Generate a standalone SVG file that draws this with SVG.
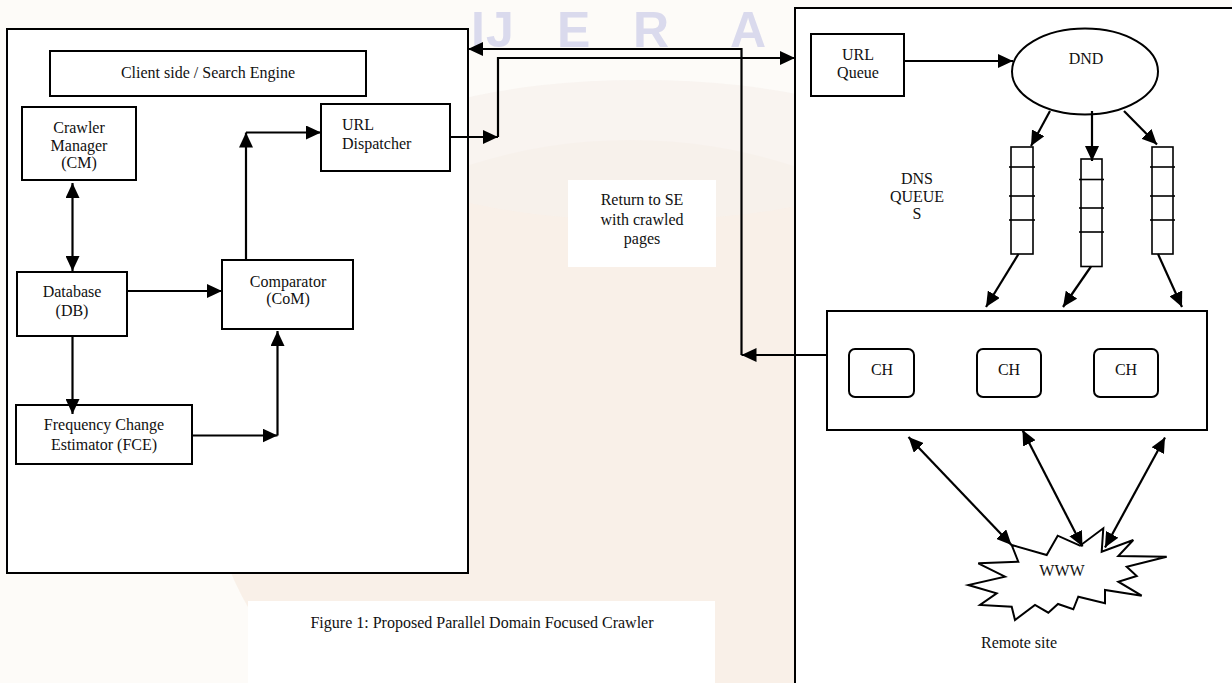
<svg xmlns="http://www.w3.org/2000/svg" width="1232" height="683" viewBox="0 0 1232 683">
<defs>
<style>
.box{fill:#fff;stroke:#000;stroke-width:2}
.qb{fill:#fff;stroke:#000;stroke-width:1.6}
.ql{stroke:#000;stroke-width:1.6}
.t{font-family:"Liberation Serif","Times New Roman",serif;font-size:16px;fill:#111}
.c{text-anchor:middle}
.ln{stroke:#000;stroke-width:2.2;fill:none}
.wm{font-family:"Liberation Sans",Arial,sans-serif;font-size:50px;font-weight:bold;fill:#dadaed}
</style>
<marker id="ah" viewBox="0 0 15 14" refX="15" refY="7" markerWidth="15" markerHeight="14" markerUnits="userSpaceOnUse" orient="auto-start-reverse">
<path d="M0,0 L15,7 L0,14 z" fill="#000"/>
</marker>
</defs>

<g id="background">
<rect x="0" y="0" width="1232" height="683" fill="#fdfbf8"/>
<ellipse cx="630" cy="470" rx="420" ry="330" fill="#f8eee4" opacity="0.8"/>
<ellipse cx="640" cy="150" rx="260" ry="70" fill="#f6f1ec" opacity="0.7"/>
<text class="wm" x="471 486 557 633 730" y="47">IJERA</text>
</g>

<g id="client-container">
<rect class="box" x="7" y="29" width="461" height="544"/>
</g>
<g id="server-container">
<rect class="box" x="795" y="8" width="460" height="700"/>
</g>

<g id="return-label">
<rect x="568" y="180" width="148" height="87" fill="#fff"/>
<text class="t c" x="642" y="205">Return to SE</text>
<text class="t c" x="642" y="224.5">with crawled</text>
<text class="t c" x="642" y="244">pages</text>
</g>

<g id="caption">
<rect x="248" y="601" width="467" height="82" fill="#fff"/>
<text class="t c" x="482" y="628">Figure 1: Proposed Parallel Domain Focused Crawler</text>
</g>

<g id="client-side">
<rect class="box" x="50" y="51" width="316" height="45"/>
<text class="t c" x="208" y="78">Client side / Search Engine</text>
</g>

<g id="crawler-manager">
<rect class="box" x="22" y="107" width="114" height="73"/>
<text class="t c" x="79" y="132.5">Crawler</text>
<text class="t c" x="79" y="150.5">Manager</text>
<text class="t c" x="79" y="168">(CM)</text>
</g>

<g id="database">
<rect class="box" x="17" y="272" width="110" height="64"/>
<text class="t c" x="72" y="296.5">Database</text>
<text class="t c" x="72" y="316">(DB)</text>
</g>

<g id="comparator">
<rect class="box" x="222" y="260" width="131" height="69"/>
<text class="t c" x="288" y="286.5">Comparator</text>
<text class="t c" x="288" y="304">(CoM)</text>
</g>

<g id="url-dispatcher">
<rect class="box" x="321" y="104" width="129" height="67"/>
<text class="t" x="342" y="129.5">URL</text>
<text class="t" x="342" y="148.5">Dispatcher</text>
</g>

<g id="fce">
<rect class="box" x="16" y="405" width="176" height="59"/>
<text class="t c" x="104" y="430">Frequency Change</text>
<text class="t c" x="104" y="449.5">Estimator (FCE)</text>
</g>

<g id="url-queue">
<rect class="box" x="811" y="34" width="93" height="62"/>
<text class="t c" x="858" y="59.5">URL</text>
<text class="t c" x="858" y="78">Queue</text>
</g>

<g id="dnd">
<ellipse class="box" cx="1085" cy="71.5" rx="73" ry="43"/>
<text class="t c" x="1086" y="63.5">DND</text>
</g>

<g id="dns-queues-label">
<text class="t c" x="917" y="183.5">DNS</text>
<text class="t c" x="917" y="201.5">QUEUE</text>
<text class="t c" x="917" y="219">S</text>
</g>

<g id="dns-queue-1">
<rect class="qb" x="1011" y="147" width="22" height="107"/>
<line class="ql" x1="1009" y1="167" x2="1035" y2="167"/>
<line class="ql" x1="1009" y1="196" x2="1035" y2="196"/>
<line class="ql" x1="1009" y1="220" x2="1035" y2="220"/>
</g>
<g id="dns-queue-2">
<rect class="qb" x="1081" y="159" width="21" height="107.5"/>
<line class="ql" x1="1079" y1="179.5" x2="1104" y2="179.5"/>
<line class="ql" x1="1079" y1="208" x2="1104" y2="208"/>
<line class="ql" x1="1079" y1="232" x2="1104" y2="232"/>
</g>
<g id="dns-queue-3">
<rect class="qb" x="1152" y="147" width="21" height="107"/>
<line class="ql" x1="1150" y1="167" x2="1175" y2="167"/>
<line class="ql" x1="1150" y1="196" x2="1175" y2="196"/>
<line class="ql" x1="1150" y1="220" x2="1175" y2="220"/>
</g>

<g id="crawl-hands">
<rect class="box" x="827" y="311" width="380" height="119"/>
</g>
<g id="ch-1">
<rect class="box" x="849" y="349" width="65" height="48" rx="6"/>
<text class="t c" x="882" y="375">CH</text>
</g>
<g id="ch-2">
<rect class="box" x="977" y="349" width="64" height="48" rx="6"/>
<text class="t c" x="1009" y="375">CH</text>
</g>
<g id="ch-3">
<rect class="box" x="1094" y="349" width="64" height="48" rx="6"/>
<text class="t c" x="1126" y="375">CH</text>
</g>

<g id="www">
<polygon class="box" points="1011.7,545 1046.7,555 1057.7,535.7 1080,545.7 1103.3,528.3 1101.7,551.7 1133.3,540 1118.3,556 1166.7,556.7 1126.7,566.7 1136.7,576 1118.3,581.7 1141.7,595.7 1105,590 1105,603.3 1078.3,596.7 1073.3,609.3 1058,604 1048.3,612.7 1035,605 1015,620 1011.7,606.7 980,605 996.7,593.3 968.3,585 1005,576.7 978.3,563.3 1018.3,561.7"/>
<text class="t c" x="1062" y="576">WWW</text>
</g>

<g id="remote-site">
<text class="t c" x="1019" y="648">Remote site</text>
</g>

<g id="connectors">
<line class="ln" x1="72.5" y1="183" x2="72.5" y2="271" marker-start="url(#ah)" marker-end="url(#ah)"/>
<line class="ln" x1="127" y1="291" x2="222" y2="291" marker-end="url(#ah)"/>
<line class="ln" x1="246" y1="260" x2="246" y2="132.5" marker-end="url(#ah)"/>
<line class="ln" x1="246" y1="132.5" x2="321" y2="132.5" marker-end="url(#ah)"/>
<line class="ln" x1="72.5" y1="336" x2="72.5" y2="414" marker-end="url(#ah)"/>
<line class="ln" x1="192" y1="435.5" x2="277.5" y2="435.5" marker-end="url(#ah)"/>
<line class="ln" x1="277.5" y1="435.5" x2="277.5" y2="331" marker-end="url(#ah)"/>
<line class="ln" x1="450" y1="137" x2="498" y2="137" marker-end="url(#ah)"/>
<polyline class="ln" points="498,137 498,58 795,58" marker-end="url(#ah)"/>
<line class="ln" x1="827" y1="355" x2="741.5" y2="355" marker-end="url(#ah)"/>
<polyline class="ln" points="741.5,355 741.5,49 468,49" marker-end="url(#ah)"/>
<line class="ln" x1="904" y1="61" x2="1013" y2="61" marker-end="url(#ah)"/>
<line class="ln" x1="1050" y1="111" x2="1031" y2="146" marker-end="url(#ah)"/>
<line class="ln" x1="1092" y1="111" x2="1092" y2="161" marker-end="url(#ah)"/>
<line class="ln" x1="1124" y1="111" x2="1157" y2="144.5" marker-end="url(#ah)"/>
<line class="ln" x1="1018.5" y1="254" x2="986" y2="307" marker-end="url(#ah)"/>
<line class="ln" x1="1091" y1="266.5" x2="1063" y2="307" marker-end="url(#ah)"/>
<line class="ln" x1="1158" y1="254" x2="1182" y2="307" marker-end="url(#ah)"/>
<line class="ln" x1="908.5" y1="437" x2="1011.5" y2="545" marker-start="url(#ah)" marker-end="url(#ah)"/>
<line class="ln" x1="1022.5" y1="430" x2="1082.5" y2="546.5" marker-start="url(#ah)" marker-end="url(#ah)"/>
<line class="ln" x1="1165" y1="437.5" x2="1105" y2="547.5" marker-start="url(#ah)" marker-end="url(#ah)"/>
</g>
</svg>
